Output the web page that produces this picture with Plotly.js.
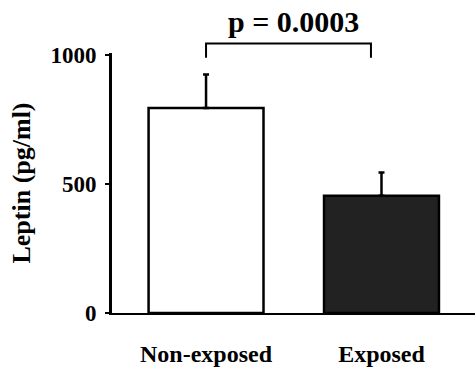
<!DOCTYPE html>
<html>
<head>
<meta charset="utf-8">
<script src="https://cdn.plot.ly/plotly-3.0.1.min.js"></script>
<style>html,body{margin:0;padding:0;background:#fff;}#chart{width:475px;height:368px;}</style>
</head>
<body>
<div id="chart"></div>
<script>
const categories = ["Non-exposed", "Exposed"];
const leptin = [795, 455];
const leptinErr = [130, 90];
const barColors = ["#ffffff", "#222222"];
const yTickVals = [0, 500, 1000];
const yTickText = ["0", "500", "1000"];
const pText = "p = 0.0003";
const bracketX = [0, 0.94];
const bracketY = [990, 1045];

const font = "Liberation Serif, Times New Roman, serif";
const yMax = 1008;
const toPaper = v => v / yMax;

const trace = {
  type: "bar",
  x: [0, 1],
  y: leptin,
  width: 0.655,
  marker: {color: barColors, line: {color: "#000", width: 2.5}},
  error_y: {type: "data", symmetric: false, array: leptinErr, arrayminus: [0, 0], color: "#000", thickness: 2.5, width: 3},
  hoverinfo: "skip"
};

const layout = {
  width: 475, height: 368,
  margin: {l: 112, r: 0, t: 53, b: 55},
  paper_bgcolor: "#fff", plot_bgcolor: "#fff",
  showlegend: false,
  font: {family: font, color: "#000"},
  xaxis: {
    range: [-0.536, 1.533],
    tickvals: [0, 1], ticktext: categories,
    showline: true, linecolor: "#000", linewidth: 2,
    ticks: "", showgrid: false, zeroline: false,
    ticklabelstandoff: 18,
    tickfont: {family: font, size: 24, color: "#000", weight: "bold"},
    fixedrange: true
  },
  yaxis: {
    range: [0, yMax],
    tickvals: yTickVals, ticktext: yTickText,
    showline: true, linecolor: "#000", linewidth: 3,
    ticks: "outside", ticklen: 4, tickwidth: 2, tickcolor: "#000",
    ticklabelstandoff: 4,
    showgrid: false, zeroline: false,
    tickfont: {family: font, size: 23, color: "#000", weight: "bold"},
    title: {text: "Leptin (pg/ml)", standoff: 13, font: {family: font, size: 26, color: "#000", weight: "bold"}},
    fixedrange: true
  },
  shapes: [
    {type: "path", xref: "x", yref: "paper",
     path: `M ${bracketX[0]} ${toPaper(bracketY[0])} L ${bracketX[0]} ${toPaper(bracketY[1])} L ${bracketX[1]} ${toPaper(bracketY[1])} L ${bracketX[1]} ${toPaper(bracketY[0])}`,
     line: {color: "#000", width: 2}}
  ],
  annotations: [
    {text: pText, xref: "x", yref: "paper", x: (bracketX[0] + bracketX[1]) / 2 + 0.03, y: toPaper(bracketY[1]), yanchor: "bottom",
     yshift: 3, showarrow: false, font: {family: font, size: 30, color: "#000", weight: "bold"}}
  ]
};

Plotly.newPlot("chart", [trace], layout, {displayModeBar: false, staticPlot: true});
</script>
</body>
</html>
